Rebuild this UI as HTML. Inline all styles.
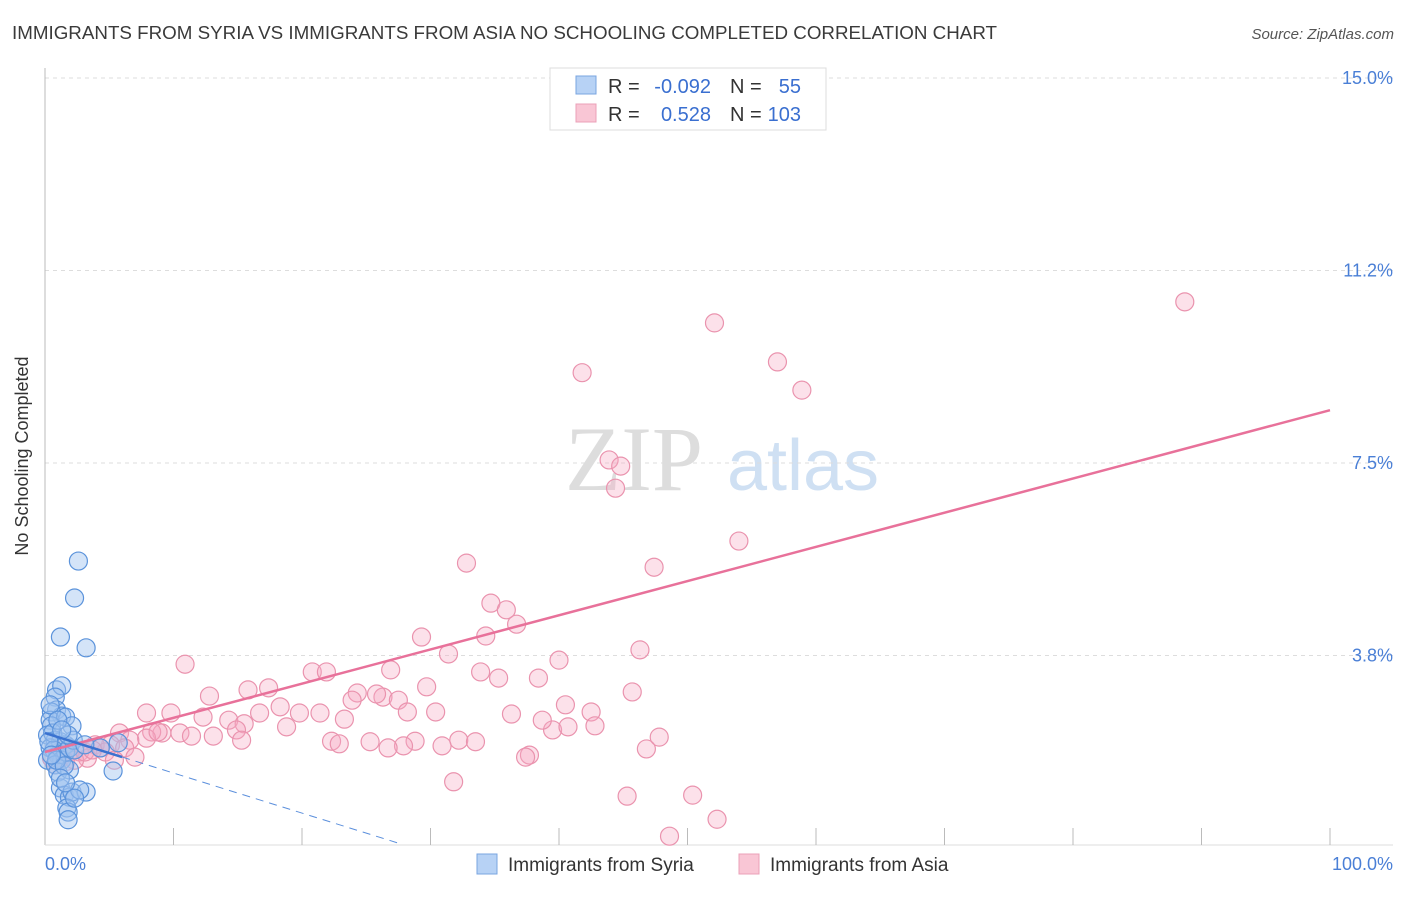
<!DOCTYPE html>
<html><head><meta charset="utf-8"><style>
body{margin:0;background:#fff;font-family:"Liberation Sans",sans-serif;}
</style></head><body>
<svg width="1406" height="892" xmlns="http://www.w3.org/2000/svg">
<text x="12" y="39" font-size="18" fill="#3a3a3a" textLength="985" lengthAdjust="spacingAndGlyphs">IMMIGRANTS FROM SYRIA VS IMMIGRANTS FROM ASIA NO SCHOOLING COMPLETED CORRELATION CHART</text>
<text x="1394" y="39" font-size="15" fill="#555" text-anchor="end" font-style="italic">Source: ZipAtlas.com</text>
<g>
<text x="634" y="490" font-size="92" fill="#ddd" text-anchor="middle" font-family="Liberation Serif,serif">ZIP</text>
<text x="803" y="490" font-size="72" fill="#cfe0f3" text-anchor="middle">atlas</text>
</g>
<g id="grid"></g>
<line x1="45" y1="68" x2="45" y2="845" stroke="#bbb"/>
<line x1="45" y1="845" x2="1393" y2="845" stroke="#ddd"/>
<g id="xticks"></g>
<text x="28" y="456" font-size="18" fill="#333" text-anchor="middle" transform="rotate(-90 28 456)">No Schooling Completed</text>
<text x="45" y="870" font-size="18" fill="#4a7fd6">0.0%</text>
<text x="1393" y="870" font-size="18" fill="#4a7fd6" text-anchor="end">100.0%</text>
<g id="pts"></g>
<g id="trend"></g>
<g>
<rect x="550" y="68" width="276" height="62" fill="#fff" stroke="#ddd"/>
<rect x="576" y="76" width="20" height="18" fill="#b7d2f5" stroke="#7aa5e0"/>
<rect x="576" y="104" width="20" height="18" fill="#f9c6d5" stroke="#eba0b8"/>
<text x="608" y="93" font-size="20" fill="#333">R =</text>
<text x="711" y="93" font-size="20" fill="#3a6fd0" text-anchor="end">-0.092</text>
<text x="730" y="93" font-size="20" fill="#333">N =</text>
<text x="801" y="93" font-size="20" fill="#3a6fd0" text-anchor="end">55</text>
<text x="608" y="121" font-size="20" fill="#333">R =</text>
<text x="711" y="121" font-size="20" fill="#3a6fd0" text-anchor="end">0.528</text>
<text x="730" y="121" font-size="20" fill="#333">N =</text>
<text x="801" y="121" font-size="20" fill="#3a6fd0" text-anchor="end">103</text>
</g>
<g>
<rect x="477" y="854" width="20" height="20" fill="#b7d2f5" stroke="#7aa5e0"/>
<text x="508" y="871" font-size="19" fill="#333">Immigrants from Syria</text>
<rect x="739" y="854" width="20" height="20" fill="#f9c6d5" stroke="#eba0b8"/>
<text x="770" y="871" font-size="19" fill="#333">Immigrants from Asia</text>
</g>
</svg>
<script>
const yTicks=[3.75,7.5,11.25,15];
const yTickLabels=["3.8%","7.5%","11.2%","15.0%"];
const xTickVals=[10,20,30,40,50,60,70,80,90,100];
const pinkX=[88.7,52.1,57.0,58.9,41.8,43.9,44.8,44.4,54.0,32.8,47.4,34.7,35.9,36.7,29.3,34.3,31.4,46.3,40.0,10.9,20.8,21.9,26.9,33.9,35.3,38.4,29.7,45.7,15.8,17.4,12.8,24.3,26.3,25.8,27.5,23.9,18.3,19.8,21.4,7.9,9.8,12.3,16.7,28.2,30.4,36.3,40.5,42.5,14.3,15.5,23.3,18.8,14.9,9.1,8.3,10.5,11.4,13.1,7.9,5.8,6.6,5.1,15.3,22.3,22.9,25.3,28.8,27.9,32.2,33.5,30.9,26.7,39.5,38.7,40.7,42.8,47.8,46.8,6.2,3.9,2.7,4.7,7.0,3.3,1.9,1.2,1.6,37.7,37.4,31.8,45.3,50.4,52.3,48.6,4.3,2.3,0.8,3.1,5.4,0.5,3.7,1.3,8.8];
const pinkY=[10.64,10.23,9.47,8.92,9.26,7.56,7.44,7.01,5.98,5.55,5.47,4.77,4.64,4.36,4.11,4.13,3.78,3.86,3.66,3.58,3.43,3.43,3.47,3.43,3.31,3.31,3.14,3.04,3.08,3.12,2.96,3.02,2.94,3.00,2.88,2.88,2.75,2.63,2.63,2.63,2.63,2.55,2.63,2.65,2.65,2.61,2.79,2.65,2.49,2.42,2.51,2.36,2.30,2.24,2.26,2.24,2.18,2.18,2.14,2.24,2.10,2.01,2.10,2.08,2.03,2.07,2.08,1.99,2.10,2.07,1.99,1.95,2.30,2.49,2.36,2.38,2.16,1.93,1.95,2.01,1.87,1.87,1.77,1.75,1.87,1.75,1.68,1.81,1.77,1.29,1.01,1.03,0.56,0.23,1.95,1.71,1.62,1.87,1.71,1.75,1.91,1.91,2.26];
const blueX=[2.6,2.3,1.2,3.2,0.9,1.3,0.8,0.9,1.3,0.5,0.4,1.6,2.1,0.5,0.2,0.8,1.2,1.6,0.4,0.7,1.0,1.3,0.2,0.8,1.6,1.9,2.2,4.3,5.7,5.3,1.0,1.9,1.2,1.5,1.9,2.1,3.2,2.7,1.7,1.8,1.8,0.9,0.6,1.5,2.3,1.8,0.4,1.0,1.3,0.3,0.5,1.2,1.6,2.3,3.1];
const blueY=[5.59,4.87,4.11,3.90,3.08,3.16,2.94,2.69,2.57,2.65,2.49,2.55,2.38,2.38,2.20,2.10,2.07,2.01,1.95,1.91,1.81,1.71,1.71,1.62,1.87,1.95,2.10,1.95,2.05,1.50,1.48,1.52,1.17,1.03,0.99,1.09,1.09,1.13,0.78,0.70,0.55,1.71,2.24,1.60,1.91,2.20,2.79,2.49,2.30,2.07,1.81,1.36,1.27,0.97,2.01];
const pinkTrend=[1.87,8.53];
const blueTrend=[2.24,-0.078];
const NS="http://www.w3.org/2000/svg";
const xs=v=>45+v*12.85, ys=v=>848-v*51.33;
function mk(t,a,p){const e=document.createElementNS(NS,t);for(const k in a)e.setAttribute(k,a[k]);p.appendChild(e);return e;}
const grid=document.getElementById('grid');
yTicks.forEach((v,i)=>{
 const l=mk('line',{x1:45,x2:1393,y1:ys(v),y2:ys(v),stroke:'#ddd','stroke-dasharray':'4,4'},grid);
 
 
 const t=mk('text',{x:1393,y:ys(v)+6,'font-size':18,fill:'#4a7fd6','text-anchor':'end'},grid);
 t.textContent=yTickLabels[i];
 
 
});
const xt=document.getElementById('xticks');
xTickVals.forEach(v=>{
 const l=mk('line',{x1:xs(v),x2:xs(v),y1:828,y2:845,stroke:'#bbb'},xt);
 
 
});
const pts=document.getElementById('pts');
pinkX.forEach((x,i)=>{
 const c=mk('circle',{cx:xs(x),cy:ys(pinkY[i]),r:9,fill:'rgba(246,170,194,0.35)',stroke:'#ea93ae','stroke-width':1.2},pts);
 
 
});
blueX.forEach((x,i)=>{
 const c=mk('circle',{cx:xs(x),cy:ys(blueY[i]),r:9,fill:'rgba(160,196,240,0.45)',stroke:'#5b93db','stroke-width':1.2},pts);
 
 
});
const tr=document.getElementById('trend');
const pl=mk('line',{x1:xs(0),y1:ys(pinkTrend[0]),x2:xs(100),y2:ys(pinkTrend[1]),stroke:'#e8719a','stroke-width':2.5},tr);


const bl=mk('line',{x1:xs(0),y1:ys(blueTrend[0]),x2:xs(6),y2:ys(blueTrend[0]+blueTrend[1]*6),stroke:'#3a72d0','stroke-width':2.5},tr);


const bd=mk('line',{x1:xs(6),y1:ys(blueTrend[0]+blueTrend[1]*6),x2:xs(27.6),y2:ys(blueTrend[0]+blueTrend[1]*27.6),stroke:'#5b8fdc','stroke-width':1,'stroke-dasharray':'8,6'},tr);


</script>
</body></html>
